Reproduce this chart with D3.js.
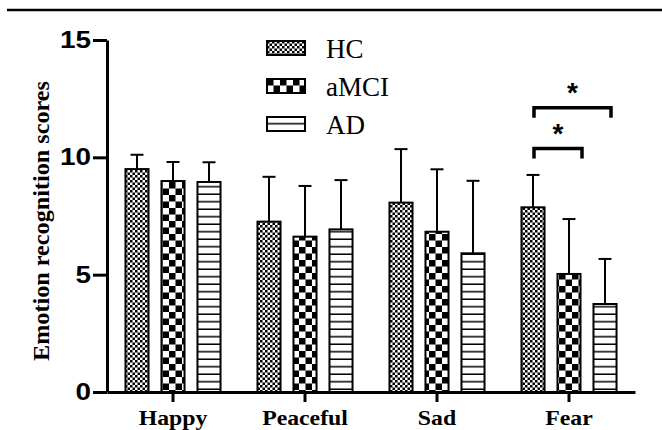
<!DOCTYPE html>
<html><head><meta charset="utf-8">
<script src="https://cdn.jsdelivr.net/npm/d3@7"></script>
<style>body{margin:0;background:#fff}svg{display:block}</style>
</head><body><svg id="c" width="662" height="430"></svg>
<script>
const categories = ["Happy", "Peaceful", "Sad", "Fear"];
const seriesNames = ["HC", "aMCI", "AD"];
const meanHC   = [9.5, 7.26, 8.07, 7.87];
const meanAMCI = [8.99, 6.62, 6.83, 5.03];
const meanAD   = [8.95, 6.93, 5.91, 3.75];
const errHC    = [0.61, 1.91, 2.28, 1.38];
const errAMCI  = [0.81, 2.16, 2.66, 2.34];
const errAD    = [0.84, 2.10, 3.09, 1.92];
const yTicks = [0, 5, 10, 15];
const sigPairs = [
  {cat: "Fear", from: "HC", to: "aMCI", y: 10.38, label: "*"},
  {cat: "Fear", from: "HC", to: "AD", y: 12.11, label: "*"}
];

const means = [meanHC, meanAMCI, meanAD];
const errs = [errHC, errAMCI, errAD];
const data = [];
categories.forEach((c, i) => seriesNames.forEach((s, j) => data.push({cat: c, s, v: means[j][i], e: errs[j][i]})));

const svg = d3.select("#c");
const defs = svg.append("defs");
let p = defs.append("pattern").attr("id", "pHC").attr("patternUnits", "userSpaceOnUse").attr("width", 5).attr("height", 5);
p.append("rect").attr("width", 5).attr("height", 5).attr("fill", "#fff");
p.append("rect").attr("width", 2.5).attr("height", 2.5).attr("fill", "#000");
p.append("rect").attr("x", 2.5).attr("y", 2.5).attr("width", 2.5).attr("height", 2.5).attr("fill", "#000");
p = defs.append("pattern").attr("id", "pAMCI").attr("patternUnits", "userSpaceOnUse").attr("width", 13).attr("height", 13);
p.append("rect").attr("width", 13).attr("height", 13).attr("fill", "#fff");
p.append("rect").attr("width", 6.5).attr("height", 6.5).attr("fill", "#000");
p.append("rect").attr("x", 6.5).attr("y", 6.5).attr("width", 6.5).attr("height", 6.5).attr("fill", "#000");
p = defs.append("pattern").attr("id", "pAD").attr("patternUnits", "userSpaceOnUse").attr("width", 8).attr("height", 7.5);
p.append("rect").attr("width", 8).attr("height", 7.5).attr("fill", "#fff");
p.append("rect").attr("y", 6).attr("width", 8).attr("height", 1.5).attr("fill", "#000");
const fills = {HC: "url(#pHC)", aMCI: "url(#pAMCI)", AD: "url(#pAD)"};

const x = d3.scaleBand().domain(categories).range([107, 635]);
const xi = d3.scaleBand().domain(seriesNames).range([-x.bandwidth() * 54 / 132, x.bandwidth() * 54 / 132]).paddingInner(0.36).paddingOuter(0.18);
const y = d3.scaleLinear().domain([0, 15]).range([392, 40]);

svg.append("line").attr("x1", 7).attr("x2", 662).attr("y1", 10).attr("y2", 10).attr("stroke", "#000").attr("stroke-width", 2.5);

const g = svg.append("g");
const bx = d => x(d.cat) + x.bandwidth() / 2 + xi(d.s);
g.selectAll("rect.bar").data(data).join("rect").attr("class", "bar")
  .attr("x", bx).attr("width", xi.bandwidth())
  .attr("y", d => y(d.v)).attr("height", d => y(0) - y(d.v))
  .attr("fill", d => fills[d.s]).attr("stroke", "#000").attr("stroke-width", 2);
g.selectAll("line.eb").data(data).join("line").attr("class", "eb")
  .attr("x1", d => bx(d) + xi.bandwidth() / 2).attr("x2", d => bx(d) + xi.bandwidth() / 2)
  .attr("y1", d => y(d.v)).attr("y2", d => y(d.v + d.e)).attr("stroke", "#000").attr("stroke-width", 2);
g.selectAll("line.cap").data(data).join("line").attr("class", "cap")
  .attr("x1", d => bx(d) + xi.bandwidth() / 2 - 6.5).attr("x2", d => bx(d) + xi.bandwidth() / 2 + 6.5)
  .attr("y1", d => y(d.v + d.e)).attr("y2", d => y(d.v + d.e)).attr("stroke", "#000").attr("stroke-width", 2);

const yAx = svg.append("g").attr("transform", "translate(107,0)")
  .call(d3.axisLeft(y).tickValues(yTicks).tickSize(14).tickSizeOuter(0).tickPadding(2));
yAx.selectAll("path,line").attr("stroke", "#000").attr("stroke-width", 3);
yAx.selectAll("text").attr("font-family", "Liberation Sans, Arial, sans-serif").attr("font-weight", "bold").attr("font-size", 23).attr("fill", "#000")
  .attr("textLength", d => String(d).length * 15.5).attr("lengthAdjust", "spacingAndGlyphs");

const xAx = svg.append("g").attr("transform", "translate(0,392)")
  .call(d3.axisBottom(x).tickSize(10).tickSizeOuter(0).tickPadding(7));
xAx.select("path").attr("stroke", "#000").attr("stroke-width", 3);
xAx.selectAll("line").attr("stroke", "#000").attr("stroke-width", 3);
xAx.selectAll("text").attr("font-family", "Liberation Serif, Times New Roman, serif").attr("font-weight", "bold").attr("font-size", 22).attr("fill", "#000")
  .each(function () { const w = this.getComputedTextLength(); d3.select(this).attr("textLength", w * 1.08).attr("lengthAdjust", "spacingAndGlyphs"); });

svg.append("text").attr("transform", "translate(49,221) rotate(-90)").attr("text-anchor", "middle")
  .attr("font-family", "Liberation Serif, Times New Roman, serif").attr("font-weight", "bold").attr("font-size", 23)
  .attr("textLength", 280).attr("lengthAdjust", "spacingAndGlyphs")
  .text("Emotion recognition scores");

const cx = (cat, s) => x(cat) + x.bandwidth() / 2 + xi(s) + xi.bandwidth() / 2;
sigPairs.forEach(sp => {
  const x1 = cx(sp.cat, sp.from) + 1, x2 = cx(sp.cat, sp.to) + (sp.to === "AD" ? 6 : 13);
  const yy = y(sp.y);
  svg.append("path").attr("d", `M${x1},${yy + 10}V${yy}H${x2}V${yy + 10}`)
    .attr("fill", "none").attr("stroke", "#000").attr("stroke-width", 3.5);
  svg.append("text").attr("x", (x1 + x2) / 2).attr("y", yy - 2).attr("text-anchor", "middle")
    .attr("font-family", "Liberation Sans, Arial, sans-serif").attr("font-weight", "bold").attr("font-size", 28)
    .attr("dy", "0.55em").attr("transform", `translate(0,-19)`).text(sp.label);
});

const lg = svg.append("g").attr("transform", "translate(267,41)");
seriesNames.forEach((s, i) => {
  const r = lg.append("g").attr("transform", `translate(0,${i * 38})`);
  r.append("rect").attr("width", 38).attr("height", 14).attr("fill", fills[s]).attr("stroke", "#000").attr("stroke-width", 2);
  r.append("text").attr("x", 59).attr("y", 17).attr("font-family", "Liberation Serif, Times New Roman, serif")
    .attr("font-size", 27).text(s);
});
</script></body></html>
